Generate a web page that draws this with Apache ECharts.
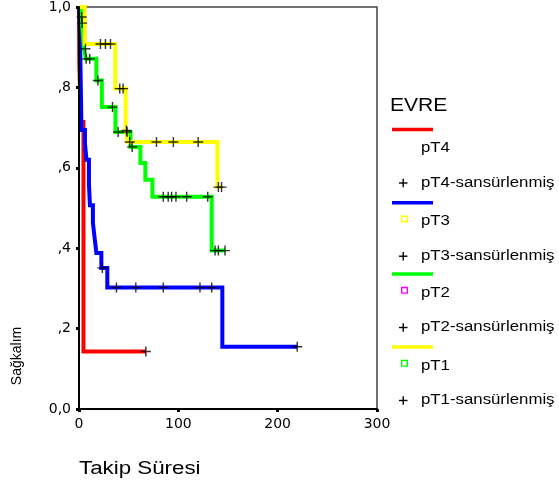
<!DOCTYPE html>
<html>
<head>
<meta charset="utf-8">
<script src="https://cdn.jsdelivr.net/npm/echarts@6/dist/echarts.min.js"></script>
<style>
html,body{margin:0;padding:0;background:#fff;}
#chart{width:559px;height:486px;}
</style>
</head>
<body>
<div id="chart"></div>
<script>
// ---- Data ----
const groupNames = ['pT4', 'pT3', 'pT2', 'pT1'];
const censorSuffix = '-sansürlenmiş';

// pT4 (red)
const pT4Times = [0, 0.3, 2, 4.5, 67.3];
const pT4Surv  = [1, 0.857, 0.714, 0.143, 0.143];
const pT4CensorTimes = [67.3];
const pT4CensorSurv  = [0.143];

// pT3 (blue)
const pT3Times = [0, 1, 2.5, 6, 7.5, 10, 11, 14, 16, 17.5, 22.5, 28.5, 144.3, 219.7];
const pT3Surv  = [1, 0.93, 0.694, 0.66, 0.62, 0.56, 0.507, 0.463, 0.42, 0.388, 0.351, 0.302, 0.155, 0.155];
const pT3CensorTimes = [23.5, 37.7, 57.2, 84.8, 121.8, 133.6, 219.7];
const pT3CensorSurv  = [0.351, 0.302, 0.302, 0.302, 0.302, 0.302, 0.155];

// pT2 (green)
const pT2Times = [0, 2.5, 3, 4, 5, 6.8, 17.5, 23, 36.7, 51.8, 61.8, 66.8, 73.9, 133.6, 147];
const pT2Surv  = [1, 0.975, 0.96, 0.93, 0.896, 0.871, 0.817, 0.751, 0.689, 0.652, 0.612, 0.57, 0.528, 0.394, 0.394];
const pT2CensorTimes = [2.7, 3.2, 6.5, 7.2, 10.8, 19, 33.7, 39.4, 48.4, 53.5, 84.8, 89.8, 93.2, 97.6, 108.4, 129.6, 137, 140.3, 147];
const pT2CensorSurv  = [0.975, 0.96, 0.896, 0.871, 0.871, 0.817, 0.751, 0.689, 0.689, 0.652, 0.528, 0.528, 0.528, 0.528, 0.528, 0.528, 0.394, 0.394, 0.394];

// pT1 (yellow)
const pT1Times = [0, 5.8, 36.5, 47, 49, 139.3, 143.5];
const pT1Surv  = [1, 0.908, 0.797, 0.693, 0.664, 0.552, 0.552];
const pT1CensorTimes = [21.6, 26.6, 31.7, 41, 44.4, 47.8, 51, 78, 95, 120, 140.3, 143.5];
const pT1CensorSurv  = [0.908, 0.908, 0.908, 0.797, 0.797, 0.693, 0.664, 0.664, 0.664, 0.664, 0.552, 0.552];

const yTickLabels = ['0,0', ',2', ',4', ',6', ',8', '1,0'];
const xTickLabels = ['0', '100', '200', '300'];

// ---- Styles ----
const lineColors = {pT4: '#ff0000', pT3: '#0000ff', pT2: '#00ff00', pT1: '#ffff00'};
const squareColors = {pT3: '#ffff00', pT2: '#ff00ff', pT1: '#00ff00'};

function pairs(ts, ss) { return ts.map((t, i) => [t, ss[i]]); }

const groups = {
  pT4: {curve: pairs(pT4Times, pT4Surv), cens: pairs(pT4CensorTimes, pT4CensorSurv)},
  pT3: {curve: pairs(pT3Times, pT3Surv), cens: pairs(pT3CensorTimes, pT3CensorSurv)},
  pT2: {curve: pairs(pT2Times, pT2Surv), cens: pairs(pT2CensorTimes, pT2CensorSurv)},
  pT1: {curve: pairs(pT1Times, pT1Surv), cens: pairs(pT1CensorTimes, pT1CensorSurv)}
};

const plusPath = 'path://M0,4.3H10V5.7H0Z M4.3,0H5.7V10H4.3Z';

const series = [];
groupNames.forEach((g, i) => {
  series.push({
    type: 'line', name: g, step: 'end', data: groups[g].curve,
    showSymbol: false, clip: false, z: 2 + i,
    lineStyle: {color: lineColors[g], width: 4, cap: 'butt', join: 'miter'},
    emphasis: {disabled: true}, silent: true
  });
});
groupNames.forEach((g) => {
  series.push({
    type: 'scatter', name: g + censorSuffix, data: groups[g].cens,
    symbol: plusPath, symbolSize: 10, z: 10, clip: false,
    itemStyle: {color: '#000'}, silent: true
  });
});

// ---- Legend via graphic ----
const graphics = [];
function txt(x, y, s, size, sx, extra) {
  graphics.push(Object.assign({
    type: 'text', x: x, y: y, scaleX: sx || 1, silent: true,
    style: {text: s, fontSize: size, fontFamily: '"Liberation Sans", Arial, sans-serif',
      fill: '#000', textAlign: 'left', textVerticalAlign: 'middle'}
  }, extra || {}));
}
txt(390, 106.5, 'EVRE', 18, 1.17);
const legendLineY = [129.5, 202.7, 274, 347];
groupNames.forEach((g, i) => {
  const y0 = legendLineY[i];
  graphics.push({type: 'line', silent: true, shape: {x1: 392, y1: y0, x2: 433, y2: y0},
    style: {stroke: lineColors[g], lineWidth: 3.5}});
  if (squareColors[g]) {
    graphics.push({type: 'rect', silent: true, shape: {x: 401.7, y: y0 + 13.5, width: 5.6, height: 5.6},
      style: {fill: 'none', stroke: squareColors[g], lineWidth: 1.4}});
  }
  txt(421, y0 + 18.8, g, 14, 1.2);
  const py = y0 + 53.5;
  graphics.push({type: 'line', silent: true, shape: {x1: 399, y1: py, x2: 407.5, y2: py}, style: {stroke: '#000', lineWidth: 1.4}});
  graphics.push({type: 'line', silent: true, shape: {x1: 403.2, y1: py - 4.3, x2: 403.2, y2: py + 4.3}, style: {stroke: '#000', lineWidth: 1.4}});
  txt(421, py, g + censorSuffix, 14, 1.2);
});
// axis names
txt(79, 469, 'Takip Süresi', 18, 1.24);
graphics.push({
  type: 'text', x: 17, y: 356, rotation: Math.PI / 2, silent: true,
  style: {text: 'Sağkalım', fontSize: 14, fontFamily: '"Liberation Sans", Arial, sans-serif', fill: '#000',
    textAlign: 'center', textVerticalAlign: 'middle'}
});

const chart = echarts.init(document.getElementById('chart'), null, {renderer: 'canvas'});
chart.setOption({
  animation: false,
  backgroundColor: '#fff',
  grid: {left: 79, right: 182, top: 6.5, bottom: 77, show: true, borderColor: '#444', borderWidth: 1.5, backgroundColor: 'transparent'},
  xAxis: {
    type: 'value', min: 0, max: 300, interval: 100, z: 6,
    axisLine: {show: true, onZero: false, lineStyle: {color: '#000', width: 2}},
    axisTick: {show: true, length: 3, lineStyle: {color: '#000', width: 3}},
    splitLine: {show: false},
    axisLabel: {color: '#000', fontFamily: '"DejaVu Sans", sans-serif', fontSize: 14, margin: 8,
      formatter: (v) => xTickLabels[Math.round(v / 100)]}
  },
  yAxis: {
    type: 'value', min: 0, max: 1, interval: 0.2, z: 6,
    axisLine: {show: true, onZero: false, lineStyle: {color: '#000', width: 2}},
    axisTick: {show: true, length: 3, lineStyle: {color: '#000', width: 3}},
    splitLine: {show: false},
    axisLabel: {color: '#000', fontFamily: '"DejaVu Sans", sans-serif', fontSize: 14, margin: 8,
      formatter: (v) => yTickLabels[Math.round(v / 0.2)]}
  },
  series: series,
  graphic: graphics
});
</script>
</body>
</html>
